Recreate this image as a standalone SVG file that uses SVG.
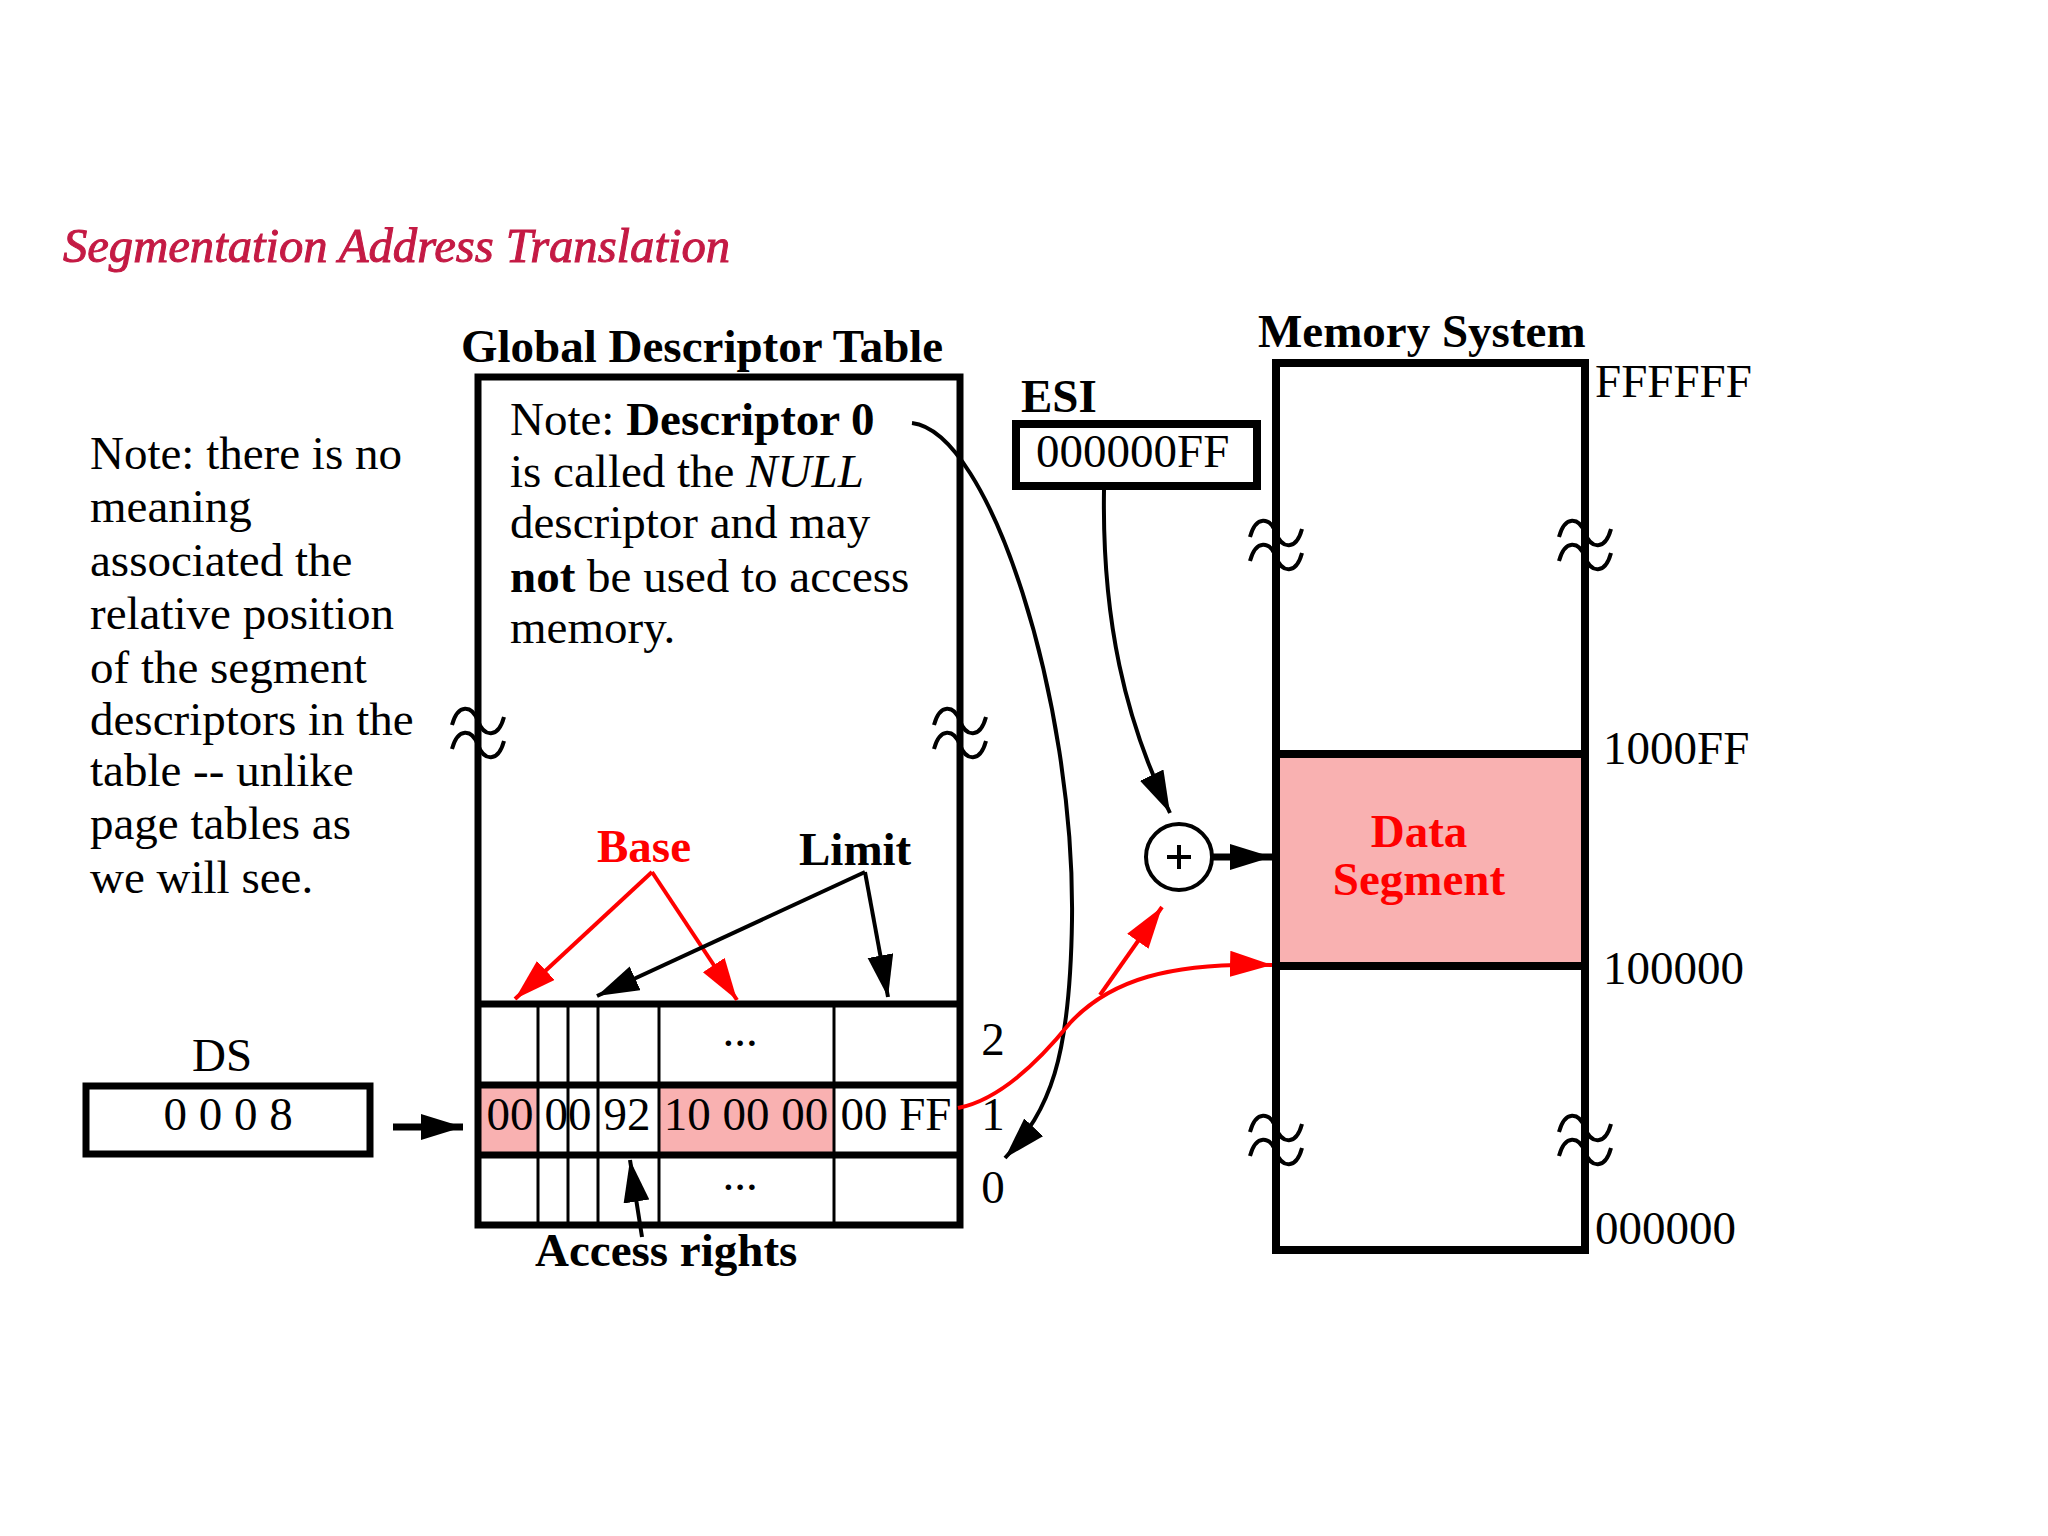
<svg xmlns="http://www.w3.org/2000/svg" width="2048" height="1536" viewBox="0 0 2048 1536">
<style>
text{font-family:"Liberation Serif","Times New Roman",serif;font-size:47px;fill:#000}
.b{font-weight:bold}
.i{font-style:italic}
.red{fill:#ff0000}
.mid{text-anchor:middle}
.box{fill:none;stroke:#000;stroke-width:7}
.thin{stroke:#000;stroke-width:3}
.hl{stroke:#000;stroke-width:7}
.pink{fill:#f9b1b1}
.arr{fill:none;stroke:#000;stroke-width:4;marker-end:url(#ah)}
.arrT{fill:none;stroke:#000;stroke-width:7;marker-end:url(#ah)}
.rarr{fill:none;stroke:#ff0000;stroke-width:4;marker-end:url(#ahr)}
.brk{fill:none;stroke:#000;stroke-width:4}
</style>
<defs>
<marker id="ah" markerUnits="userSpaceOnUse" markerWidth="44" markerHeight="28" refX="42" refY="13" orient="auto"><path d="M0,0 L42,13 L0,26 z" fill="#000"/></marker>
<marker id="ahr" markerUnits="userSpaceOnUse" markerWidth="44" markerHeight="28" refX="42" refY="13" orient="auto"><path d="M0,0 L42,13 L0,26 z" fill="#ff0000"/></marker>
<path id="brk" d="M-26,-8 C-20,-30 -6,-28 0,-12 C6,4 20,6 26,-16 M-26,16 C-20,-6 -6,-4 0,12 C6,28 20,30 26,8"/>
</defs>
<rect width="2048" height="1536" fill="#fff"/>

<g id="title">
<text x="63" y="262" class="i" style="font-size:48px;fill:#c41a44;stroke:#c41a44;stroke-width:1" textLength="667" lengthAdjust="spacingAndGlyphs">Segmentation Address Translation</text>
</g>

<g id="left-note">
<text x="90" y="469">Note: there is no</text>
<text x="90" y="522">meaning</text>
<text x="90" y="576">associated the</text>
<text x="90" y="629">relative position</text>
<text x="90" y="683">of the segment</text>
<text x="90" y="735">descriptors in the</text>
<text x="90" y="786">table -- unlike</text>
<text x="90" y="839">page tables as</text>
<text x="90" y="893">we will see.</text>
</g>

<g id="gdt">
<text x="461" y="362" class="b">Global Descriptor Table</text>
<rect x="481" y="1088" width="57" height="64" class="pink"/>
<rect x="660" y="1088" width="174" height="64" class="pink"/>
<rect x="478" y="377" width="482" height="848" class="box"/>
<line x1="478" y1="1004" x2="960" y2="1004" class="hl"/>
<line x1="478" y1="1085" x2="960" y2="1085" class="hl"/>
<line x1="478" y1="1155" x2="960" y2="1155" class="hl"/>
<line x1="538" y1="1004" x2="538" y2="1225" class="thin"/>
<line x1="568" y1="1004" x2="568" y2="1225" class="thin"/>
<line x1="598" y1="1004" x2="598" y2="1225" class="thin"/>
<line x1="659" y1="1004" x2="659" y2="1225" class="thin"/>
<line x1="834" y1="1004" x2="834" y2="1225" class="thin"/>
<use href="#brk" x="478" y="733" class="brk"/>
<use href="#brk" x="960" y="733" class="brk"/>
<text x="510" y="435">Note: <tspan class="b">Descriptor 0</tspan></text>
<text x="510" y="487">is called the <tspan class="i">NULL</tspan></text>
<text x="510" y="538">descriptor and may</text>
<text x="510" y="592"><tspan class="b">not</tspan> be used to access</text>
<text x="510" y="643">memory.</text>
<text x="740" y="1046" class="mid">...</text>
<text x="510" y="1130" class="mid">00</text>
<text x="568" y="1130" class="mid">00</text>
<text x="627" y="1130" class="mid">92</text>
<text x="746" y="1130" class="mid">10 00 00</text>
<text x="896" y="1130" class="mid">00 FF</text>
<text x="740" y="1190" class="mid">...</text>
<text x="993" y="1055" class="mid">2</text>
<text x="993" y="1130" class="mid">1</text>
<text x="993" y="1203" class="mid">0</text>
<text x="597" y="862" class="b red">Base</text>
<text x="799" y="865" class="b">Limit</text>
<text x="535" y="1266" class="b">Access rights</text>
</g>

<g id="ds">
<text x="222" y="1071" class="mid">DS</text>
<rect x="86" y="1086" width="284" height="68" class="box"/>
<text x="228" y="1130" class="mid">0 0 0 8</text>
</g>

<g id="esi">
<text x="1021" y="412" class="b">ESI</text>
<rect x="1016" y="424" width="241" height="62" style="fill:none;stroke:#000;stroke-width:8"/>
<text x="1036" y="467">000000FF</text>
</g>

<g id="adder">
<circle cx="1179" cy="857" r="33" fill="#fff" stroke="#000" stroke-width="4"/>
<line x1="1167" y1="857" x2="1191" y2="857" stroke="#000" stroke-width="4"/>
<line x1="1179" y1="845" x2="1179" y2="869" stroke="#000" stroke-width="4"/>
</g>

<g id="memory">
<text x="1258" y="347" class="b">Memory System</text>
<rect x="1276" y="754" width="309" height="212" class="pink"/>
<rect x="1276" y="363" width="309" height="887" style="fill:none;stroke:#000;stroke-width:8"/>
<line x1="1276" y1="754" x2="1585" y2="754" stroke="#000" stroke-width="8"/>
<line x1="1276" y1="966" x2="1585" y2="966" stroke="#000" stroke-width="8"/>
<use href="#brk" x="1276" y="545" class="brk"/>
<use href="#brk" x="1585" y="545" class="brk"/>
<use href="#brk" x="1276" y="1140" class="brk"/>
<use href="#brk" x="1585" y="1140" class="brk"/>
<text x="1419" y="847" class="b red mid">Data</text>
<text x="1419" y="895" class="b red mid">Segment</text>
<text x="1595" y="397">FFFFFF</text>
<text x="1603" y="764">1000FF</text>
<text x="1603" y="984">100000</text>
<text x="1595" y="1244">000000</text>
</g>

<g id="connectors">
<path d="M393,1127 L463,1127" class="arrT"/>
<path d="M1213,857 L1272,857" class="arrT"/>
<path d="M912,423 C990,432 1075,700 1072,920 C1070,1060 1050,1110 1005,1158" class="arr"/>
<path d="M1104,490 C1102,620 1125,720 1170,813" class="arr"/>
<path d="M958,1108 C1000,1100 1040,1060 1070,1023 C1110,980 1170,962 1272,965" class="rarr"/>
<path d="M1100,995 L1162,907" class="rarr"/>
<path d="M652,872 L515,999" class="rarr"/>
<path d="M652,872 L737,1000" class="rarr"/>
<path d="M865,872 L597,996" class="arr"/>
<path d="M865,872 L888,997" class="arr"/>
<path d="M642,1237 L630,1160" class="arr"/>
</g>
</svg>
